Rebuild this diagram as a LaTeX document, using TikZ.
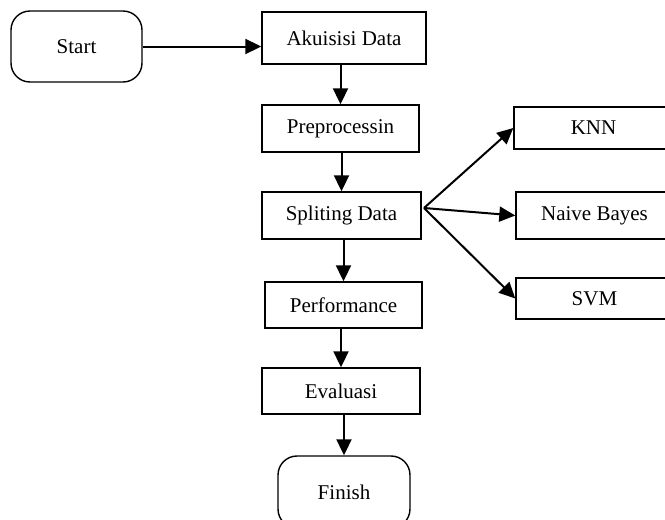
\documentclass[tikz,border=0pt]{standalone}
\usepackage{fontspec}
\setmainfont{Liberation Serif}
\usetikzlibrary{arrows.meta}

\tikzset{
    procbox/.style={draw,line width=1.4pt,inner sep=0pt,font=\fontsize{21}{25}\selectfont},
    termbox/.style={procbox,rounded corners=19pt},
    arr/.style={line width=2pt,-{Triangle[length=16pt,width=15pt]}}
}

\begin{document}
\begin{tikzpicture}[x=1pt,y=-1pt]
            \clip (0,0) rectangle (665,520);
            % main column
            \node [termbox,minimum width=131pt,minimum height=71pt] (start) at (76.5,46.5) {Start};
            \node [procbox,minimum width=164pt,minimum height=52pt] (akuisisi) at (344,38) {Akuisisi Data};
            \node [procbox,minimum width=157pt,minimum height=47pt] (prepro) at (340.5,128.5) {Preprocessin};
            \node [procbox,minimum width=159pt,minimum height=47pt] (spliting) at (341.5,215.5) {Spliting Data};
            \node [procbox,minimum width=157pt,minimum height=46pt] (perform) at (343.5,305) {Performance};
            \node [procbox,minimum width=158pt,minimum height=46pt] (evaluasi) at (341,391) {Evaluasi};
            \node [termbox,minimum width=132pt,minimum height=72pt] (finish) at (344,492) {Finish};
            % classifiers
            \node [procbox,minimum width=159pt,minimum height=42pt] (knn) at (593.5,128) {KNN};
            \node [procbox,minimum width=157pt,minimum height=47pt] (bayes) at (594.5,215.5) {Naive Bayes};
            \node [procbox,minimum width=157pt,minimum height=41pt] (svm) at (594.5,298.5) {SVM};
            \coordinate (fork) at (424,208);

            \draw [arr] (start.east) -- (start.east -| akuisisi.west);
            \draw [arr] (prepro.north |- akuisisi.south) -- (prepro.north);
            \draw [arr] (spliting.north |- prepro.south) -- (spliting.north);
            \draw [arr] (perform.north |- spliting.south) -- (perform.north);
            \draw [arr] (evaluasi.north |- perform.south) -- (evaluasi.north);
            \draw [arr] (finish.north |- evaluasi.south) -- (finish.north);
            \draw [arr] (fork) -- (knn.west);
            \draw [arr] (fork) -- (bayes.west);
            \draw [arr] (fork) -- (svm.west);
        \end{tikzpicture}
\end{document}
